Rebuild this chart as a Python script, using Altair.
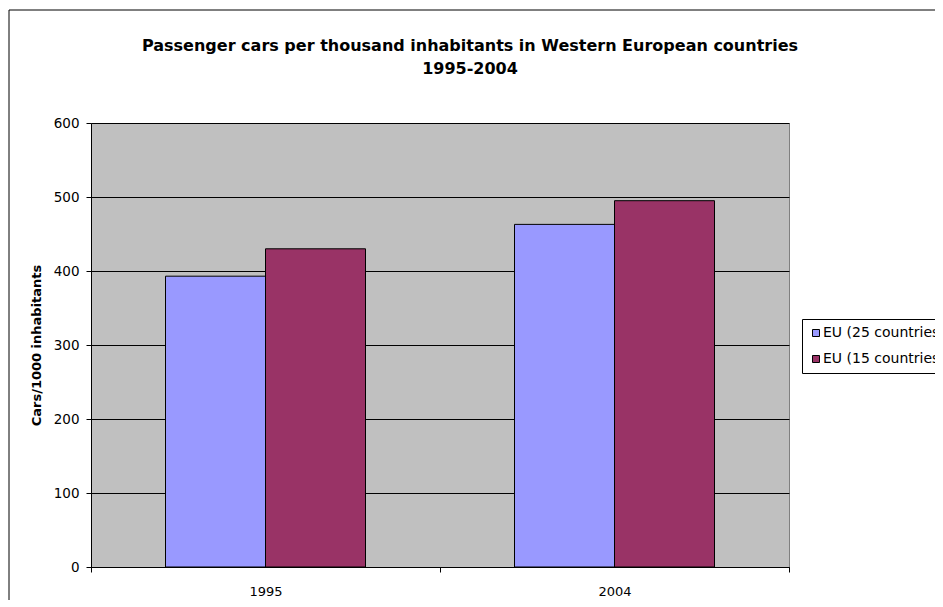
import altair as alt
import pandas as pd

years = ["1995", "2004"]
series = ["EU (25 countries)", "EU (15 countries)"]
eu25 = [393, 463]
eu15 = [430, 495]
colors = ["#9999FF", "#993366"]
title_lines = ["Passenger cars per thousand inhabitants in Western European countries",
               "1995-2004"]

rows = []
for i, y in enumerate(years):
    rows.append({"year": y, "series": series[0], "value": eu25[i]})
    rows.append({"year": y, "series": series[1], "value": eu15[i]})
df = pd.DataFrame(rows)

FONT = "DejaVu Sans"
W, H = 698, 444
PL, PT = 83, 115
TOTAL_W, TOTAL_H = 927, 592

bars = alt.Chart(df).mark_bar(stroke="black", strokeWidth=1).encode(
    x=alt.X("year:N", title=None,
            scale=alt.Scale(paddingInner=0, paddingOuter=0),
            axis=alt.Axis(labelAngle=0, tickBand="extent", tickSize=5,
                          labelPadding=13, labelFontSize=13, labelFont=FONT,
                          labelColor="black", domainColor="black",
                          tickColor="black", grid=False)),
    xOffset=alt.XOffset("series:N", sort=series,
                        scale=alt.Scale(paddingInner=0, paddingOuter=0.745)),
    y=alt.Y("value:Q", title="Cars/1000 inhabitants",
            scale=alt.Scale(domain=[0, 600]),
            axis=alt.Axis(values=[0, 100, 200, 300, 400, 500, 600],
                          tickSize=5, labelPadding=7, labelFontSize=13.5,
                          labelFont=FONT, labelColor="black",
                          domainColor="black", tickColor="black",
                          grid=True, gridColor="black", gridOpacity=1,
                          titleFont=FONT, titleFontSize=13,
                          titleFontWeight="bold", titleColor="black",
                          titlePadding=10)),
    color=alt.Color("series:N", sort=series,
                    scale=alt.Scale(domain=series, range=colors),
                    legend=alt.Legend(title=None, orient="none",
                                      legendX=711, legendY=196,
                                      symbolType="square", symbolSize=49,
                                      symbolStrokeColor="black",
                                      symbolStrokeWidth=1,
                                      labelFontSize=14, labelFont=FONT,
                                      labelColor="black",
                                      strokeColor="black", fillColor="white",
                                      padding=7, rowPadding=12,
                                      labelOffset=0, labelLimit=300)),
)

one = pd.DataFrame({"k": [0]})

title = alt.Chart(one).mark_text(
    text=title_lines, font=FONT, fontSize=16, fontWeight="bold",
    color="black", align="center", baseline="alphabetic", lineHeight=23,
).encode(x=alt.value(379), y=alt.value(-72))

frame = alt.Chart(one).mark_rect(filled=False, stroke="black",
                                 strokeWidth=1).encode(
    x=alt.value(-82), x2=alt.value(TOTAL_W - PL + 20),
    y=alt.value(-113), y2=alt.value(TOTAL_H - PT + 20),
)

chart = alt.layer(bars, title, frame).properties(
    width=W, height=H,
    padding={"left": PL, "top": PT, "right": TOTAL_W - PL - W,
             "bottom": TOTAL_H - PT - H},
    autosize=alt.AutoSizeParams(type="none"),
).configure(background="white").configure_view(
    fill="#C0C0C0", stroke="#808080", strokeWidth=1
)

chart.save("out.html", embed_options={"renderer": "svg", "actions": False})
